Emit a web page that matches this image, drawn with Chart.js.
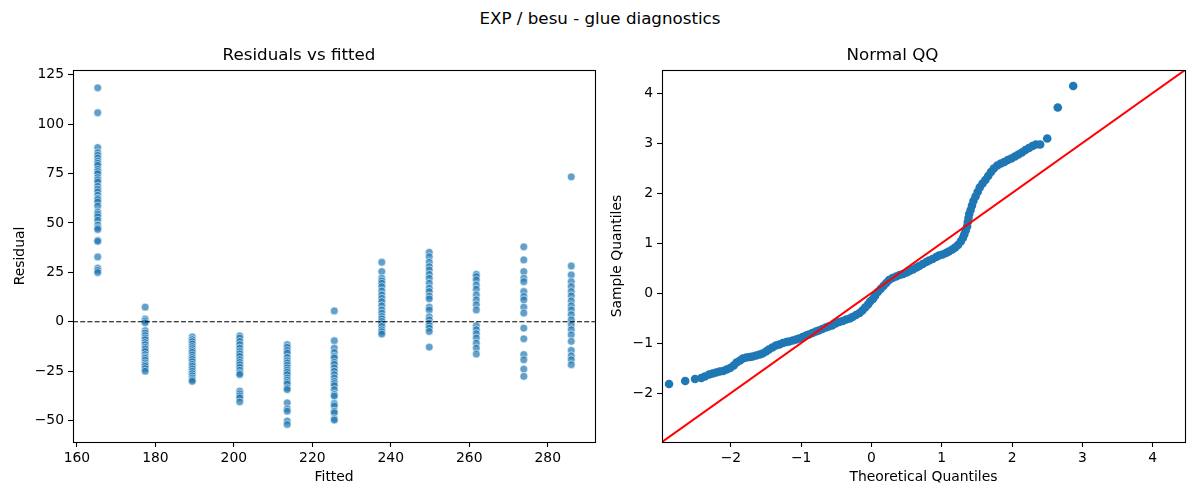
<!DOCTYPE html>
<html>
<head>
<meta charset="utf-8">
<script src="https://cdn.jsdelivr.net/npm/chart.js@4.4.1/dist/chart.umd.min.js"></script>
<style>
    body { margin: 0; background: #fff; font-family: "DejaVu Sans", sans-serif; }
    #suptitle { position: absolute; left: 0; top: 8px; width: 1200px; text-align: center; font-size: 16.7px; line-height: 20px; color: #000; }
    .panel { position: absolute; top: 0; width: 600px; height: 500px; }
</style>
</head>
<body>
<div id="suptitle">EXP / besu - glue diagnostics</div>
<div class="panel" style="left:0"><canvas id="residChart"></canvas></div>
<div class="panel" style="left:600px"><canvas id="qqChart"></canvas></div>
<script>
// Fitted value of each group (x positions of the columns)
const FITTED = [165.3, 177.4, 189.4, 201.5, 213.6, 225.6, 237.7, 249.8, 261.8, 273.9, 286.0];

// Residuals read per fitted group
const RESIDUALS = [
    [118.3, 105.7, 88.1, 85.5, 84.2, 82.8, 81.3, 80.2, 79.1, 77.1, 76.0, 74.9, 72.9, 71.8, 70.7, 68.5, 67.0, 65.7, 64.0, 62.5, 61.8, 60.6, 58.6, 55.5, 54.4, 53.1, 51.4, 48.9, 47.5, 46.7, 41.2, 40.7, 32.8, 27.1, 26.0, 24.9],
    [7.4, 1.4, 0.5, -0.5, -4.5, -5.7, -7.0, -8.2, -9.1, -10.5, -11.6, -12.9, -13.8, -15.0, -16.6, -17.8, -18.5, -19.5, -20.8, -21.7, -22.5, -23.7, -25.0],
    [-7.7, -9.0, -10.0, -11.2, -12.5, -13.5, -14.6, -15.5, -16.8, -18.0, -19.0, -20.2, -21.5, -22.5, -23.8, -25.0, -26.2, -27.3, -28.4, -29.3, -30.1],
    [-7.1, -8.2, -9.9, -11.5, -13.3, -15.0, -16.2, -17.5, -19.2, -20.5, -21.7, -23.0, -24.5, -25.9, -26.7, -35.1, -36.4, -37.5, -38.5, -40.5],
    [-11.6, -12.9, -14.5, -15.8, -18.0, -19.7, -20.8, -22.0, -23.3, -24.5, -25.5, -26.7, -28.4, -29.5, -30.6, -31.5, -33.4, -34.3, -41.0, -44.0, -45.2, -50.2, -51.9],
    [5.5, -9.6, -13.3, -15.5, -17.5, -18.3, -20.5, -21.5, -23.3, -25.0, -26.7, -28.4, -30.1, -31.2, -32.3, -34.3, -36.8, -37.6, -41.3, -42.5, -45.2, -46.0, -49.0, -49.7],
    [30.1, 25.4, 22.0, 20.7, 19.5, 17.8, 15.6, 13.6, 11.9, 10.2, 8.1, 6.0, 4.4, 2.7, 1.5, 0.2, -1.0, -2.4, -4.0, -5.0, -6.2],
    [35.1, 32.9, 30.1, 27.9, 26.2, 24.0, 22.0, 19.5, 17.0, 15.3, 13.0, 11.6, 7.4, 6.0, 2.5, 1.0, -0.7, -2.0, -3.2, -4.9, -12.8],
    [24.0, 22.9, 21.2, 18.6, 16.5, 13.6, 11.1, 8.6, 6.0, -2.0, -4.0, -6.0, -8.2, -10.8, -13.3, -16.3],
    [37.9, 31.3, 25.4, 22.0, 20.3, 15.3, 12.8, 11.1, 7.4, 4.4, -3.2, -8.6, -16.6, -19.2, -23.9, -27.6],
    [73.3, 28.2, 23.7, 20.3, 17.8, 15.3, 13.1, 10.6, 8.1, 6.0, 3.6, 1.0, -1.6, -4.0, -6.6, -9.9, -14.5, -17.2, -19.2, -21.7]
];

const RESID_X_LIMITS = [159.0, 292.1];
const RESID_Y_LIMITS = [-60.8, 127.3];
const RESID_X_TICKS = [160, 180, 200, 220, 240, 260, 280];
const RESID_Y_TICKS = [-50, -25, 0, 25, 50, 75, 100, 125];

// Normal QQ points (theoretical quantile, sample quantile)
const QQ_THEORETICAL = [
    -2.88, -2.65, -2.51, -2.42, -2.37, -2.31, -2.26, -2.21, -2.16, -2.11, -2.06, -2.01, -1.96, -1.92, -1.87, -1.83,
    -1.78, -1.73, -1.69, -1.64, -1.59, -1.55, -1.50, -1.46, -1.41, -1.36, -1.31, -1.26, -1.21, -1.17, -1.12, -1.07,
    -1.03, -0.98, -0.93, -0.89, -0.84, -0.79, -0.75, -0.70, -0.65, -0.61, -0.56, -0.51, -0.46, -0.41, -0.36, -0.31,
    -0.27, -0.22, -0.17, -0.13, -0.09, -0.05, -0.02, 0.02, 0.05, 0.09, 0.13, 0.17, 0.21, 0.25, 0.30, 0.35,
    0.40, 0.45, 0.50, 0.54, 0.59, 0.64, 0.68, 0.73, 0.78, 0.82, 0.87, 0.92, 0.96, 1.01, 1.06, 1.10,
    1.15, 1.19, 1.23, 1.27, 1.30, 1.32, 1.34, 1.36, 1.37, 1.38, 1.39, 1.41, 1.43, 1.45, 1.48, 1.51,
    1.54, 1.58, 1.62, 1.66, 1.70, 1.74, 1.79, 1.84, 1.89, 1.94, 1.99, 2.04, 2.09, 2.14, 2.19, 2.24,
    2.29, 2.34, 2.40, 2.50, 2.65, 2.87
];
const QQ_SAMPLE = [
    -1.82, -1.76, -1.72, -1.70, -1.67, -1.63, -1.61, -1.59, -1.57, -1.56, -1.53, -1.50, -1.45, -1.39, -1.35, -1.31,
    -1.29, -1.28, -1.27, -1.25, -1.23, -1.21, -1.17, -1.13, -1.09, -1.05, -1.03, -1.00, -0.98, -0.97, -0.95, -0.93,
    -0.91, -0.88, -0.85, -0.83, -0.80, -0.77, -0.75, -0.72, -0.69, -0.67, -0.65, -0.61, -0.58, -0.56, -0.53, -0.51,
    -0.48, -0.44, -0.40, -0.35, -0.29, -0.23, -0.17, -0.12, -0.06, 0.02, 0.08, 0.14, 0.20, 0.26, 0.30, 0.33,
    0.36, 0.38, 0.41, 0.44, 0.47, 0.51, 0.54, 0.58, 0.62, 0.65, 0.68, 0.72, 0.75, 0.77, 0.80, 0.83,
    0.87, 0.91, 0.96, 1.03, 1.10, 1.17, 1.25, 1.33, 1.42, 1.50, 1.58, 1.66, 1.75, 1.84, 1.93, 2.02,
    2.11, 2.19, 2.26, 2.34, 2.42, 2.49, 2.55, 2.59, 2.62, 2.66, 2.69, 2.73, 2.77, 2.81, 2.86, 2.90,
    2.94, 2.97, 2.97, 3.09, 3.71, 4.14
];

const QQ_LIMITS = [-2.98, 4.46];
const QQ_TICKS = [-2, -1, 0, 1, 2, 3, 4];

const FONT = 'DejaVu Sans';
Chart.defaults.font.family = FONT;
Chart.defaults.color = '#000';
Chart.defaults.animation = false;

function fmt(v) {
    return v < 0 ? '\u2212' + Math.abs(v) : String(v);
}

// Black box around the plotting area (matplotlib spines)
const framePlugin = {
    id: 'frame',
    afterDraw(chart) {
        const a = chart.chartArea, ctx = chart.ctx;
        ctx.save();
        ctx.strokeStyle = '#000';
        ctx.lineWidth = 1.1;
        ctx.strokeRect(Math.round(a.left) + 0.5, Math.round(a.top) + 0.5,
            Math.round(a.right - a.left), Math.round(a.bottom - a.top));
        ctx.restore();
    }
};

// Dashed horizontal line at residual = 0
const zeroLinePlugin = {
    id: 'zeroLine',
    afterDatasetsDraw(chart) {
        const y = chart.scales.y.getPixelForValue(0), a = chart.chartArea, ctx = chart.ctx;
        ctx.save();
        ctx.strokeStyle = '#000';
        ctx.lineWidth = 1.1;
        ctx.setLineDash([5, 2.2]);
        ctx.beginPath();
        ctx.moveTo(a.left, y);
        ctx.lineTo(a.right, y);
        ctx.stroke();
        ctx.restore();
    }
};

function axis(limits, ticks, size, titleText, titlePad, horizontal) {
    return {
        type: 'linear',
        min: limits[0],
        max: limits[1],
        afterBuildTicks: s => { s.ticks = ticks.map(v => ({ value: v })); },
        afterFit: s => { if (horizontal) s.height = size; else s.width = size; },
        grid: { display: true, drawOnChartArea: false, drawTicks: true, tickLength: 5, tickColor: '#000', tickWidth: 1.1 },
        border: { display: false },
        ticks: { font: { size: 13.9 }, color: '#000', padding: horizontal ? 3 : 4, maxRotation: 0, autoSkip: false, callback: v => fmt(v) },
        title: { display: true, text: titleText, font: { size: 13.9 }, color: '#000', padding: titlePad }
    };
}

function titleOpts(text) {
    return { display: true, text: text, color: '#000', font: { size: 16.7, weight: 'normal' }, padding: { top: 0, bottom: 4 } };
}

// Residuals vs fitted
const residPoints = [];
FITTED.forEach((f, i) => RESIDUALS[i].forEach(r => residPoints.push({ x: f, y: r })));

new Chart(document.getElementById('residChart'), {
    type: 'scatter',
    data: {
        datasets: [{
            data: residPoints,
            backgroundColor: 'rgba(31, 119, 180, 0.7)',
            borderColor: 'rgba(255, 255, 255, 0.7)',
            borderWidth: 0.8,
            pointRadius: 3.9
        }]
    },
    options: {
        responsive: true,
        maintainAspectRatio: false,
        layout: { padding: { top: 46, right: 2, bottom: 0, left: 0 } },
        plugins: { legend: { display: false }, tooltip: { enabled: false }, title: titleOpts('Residuals vs fitted') },
        scales: {
            x: axis(RESID_X_LIMITS, RESID_X_TICKS, 58, 'Fitted', { top: 4, bottom: 14.5 }, true),
            y: axis(RESID_Y_LIMITS, RESID_Y_TICKS, 73, 'Residual', { top: 12.5, bottom: 4 }, false)
        }
    },
    plugins: [zeroLinePlugin, framePlugin]
});

// Normal QQ
const qqPoints = QQ_THEORETICAL.map((t, i) => ({ x: t, y: QQ_SAMPLE[i] }));

new Chart(document.getElementById('qqChart'), {
    type: 'scatter',
    data: {
        datasets: [{
            // 45 degree reference line across the axis limits
            data: [{ x: QQ_LIMITS[0], y: QQ_LIMITS[0] }, { x: QQ_LIMITS[1], y: QQ_LIMITS[1] }],
            showLine: true,
            borderColor: '#ff0000',
            borderWidth: 2,
            pointRadius: 0,
            order: 0
        }, {
            data: qqPoints,
            backgroundColor: '#1f77b4',
            borderWidth: 0,
            pointRadius: 4.3,
            order: 1
        }]
    },
    options: {
        responsive: true,
        maintainAspectRatio: false,
        layout: { padding: { top: 46, right: 15, bottom: 0, left: 0 } },
        plugins: { legend: { display: false }, tooltip: { enabled: false }, title: titleOpts('Normal QQ') },
        scales: {
            x: axis(QQ_LIMITS, QQ_TICKS, 58, 'Theoretical Quantiles', { top: 4, bottom: 14.5 }, true),
            y: axis(QQ_LIMITS, QQ_TICKS, 62, 'Sample Quantiles', { top: 9.5, bottom: 4 }, false)
        }
    },
    plugins: [framePlugin]
});
</script>
</body>
</html>
